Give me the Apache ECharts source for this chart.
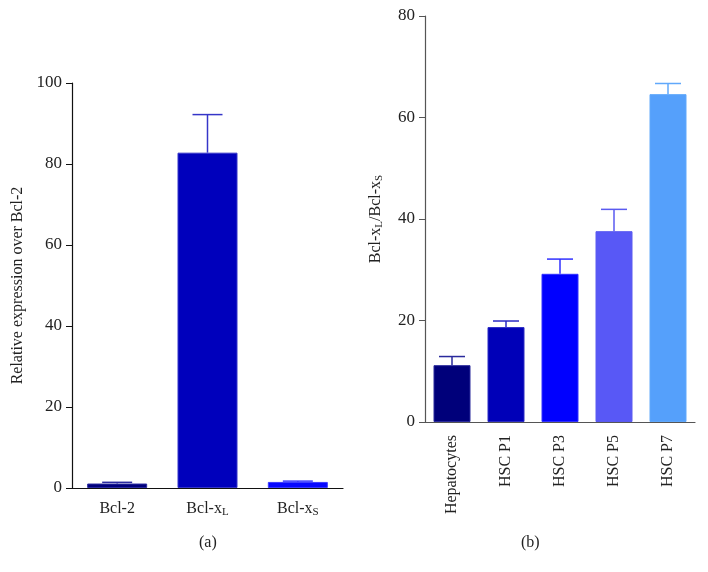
<!DOCTYPE html>
<html>
<head>
<meta charset="utf-8">
<script src="https://cdn.jsdelivr.net/npm/echarts@6/dist/echarts.min.js"></script>
<style>
  html, body { margin: 0; padding: 0; background: #fff; }
  #chart { width: 708px; height: 572px; }
</style>
</head>
<body>
<div id="chart"></div>
<script>
// panel (a)
const leftCategories = ['Bcl-2', 'Bcl-xL', 'Bcl-xS'];
const leftMeans = [1.1, 82.8, 1.5];
const leftErrors = [0.3, 9.4, 0.2];
const leftTicks = [0, 20, 40, 60, 80, 100];

// panel (b)
const rightCategories = ['Hepatocytes', 'HSC P1', 'HSC P3', 'HSC P5', 'HSC P7'];
const rightMeans = [11.2, 18.7, 29.2, 37.6, 64.6];
const rightErrors = [1.7, 1.2, 2.9, 4.3, 2.1];
const rightTicks = [0, 20, 40, 60, 80];

const leftColors = ['#00007c', '#0000bc', '#0808ff'];
const leftErrColors = ['#2a2aa0', '#3535c8', '#3a3aff'];
const rightColors = ['#00007a', '#0000b8', '#0000ff', '#5858f6', '#55a0fb'];
const rightErrColors = ['#2a2a9c', '#2a2ac4', '#3030ff', '#5a5af0', '#60a8fb'];

const FONT = '"Liberation Serif", "DejaVu Serif", serif';

const labelWithSub = (v) => {
  if (v === 'Bcl-xL') return 'Bcl-x{sub|L}';
  if (v === 'Bcl-xS') return 'Bcl-x{sub|S}';
  return v;
};

const subRich = {
  sub: { fontFamily: FONT, fontSize: 11, lineHeight: 9, color: '#222', verticalAlign: 'bottom' }
};

function errorSeries(gridIdx, means, errors, errColors, capHalf) {
  return {
    type: 'custom',
    xAxisIndex: gridIdx,
    yAxisIndex: gridIdx,
    z: 1,
    silent: true,
    data: means.map((m, i) => [i, m, m + errors[i]]),
    renderItem: (params, api) => {
      const i = api.value(0);
      const base = api.coord([i, api.value(1)]);
      const top = api.coord([i, api.value(2)]);
      const style = { stroke: errColors[i], lineWidth: 1.5 };
      return {
        type: 'group',
        children: [
          { type: 'line', shape: { x1: base[0], y1: base[1], x2: top[0], y2: top[1] }, style },
          { type: 'line', shape: { x1: top[0] - capHalf, y1: top[1], x2: top[0] + capHalf, y2: top[1] }, style }
        ]
      };
    }
  };
}

const catText = { fontFamily: FONT, fontSize: 16, color: '#222' };
const numText = { fontFamily: FONT, fontSize: 17, color: '#222' };

const chart = echarts.init(document.getElementById('chart'));
chart.setOption({
  animation: false,
  backgroundColor: '#fff',
  grid: [
    { left: 72, top: 83, width: 271, height: 405 },
    { left: 425, top: 16, width: 270, height: 406 }
  ],
  xAxis: [
    {
      gridIndex: 0,
      type: 'category',
      data: leftCategories,
      axisLine: { lineStyle: { color: '#111', width: 1.2 } },
      axisTick: { alignWithLabel: true, length: 6, lineStyle: { color: '#111' } },
      axisLabel: Object.assign({}, catText, {
        interval: 0, margin: 12, lineHeight: 18, formatter: labelWithSub, rich: subRich
      })
    },
    {
      gridIndex: 1,
      type: 'category',
      data: rightCategories,
      axisLine: { lineStyle: { color: '#555', width: 1.2 } },
      axisTick: { alignWithLabel: true, length: 6, lineStyle: { color: '#555' } },
      axisLabel: Object.assign({}, catText, { interval: 0, rotate: 90, margin: 13 })
    }
  ],
  yAxis: [
    {
      gridIndex: 0,
      type: 'value',
      min: leftTicks[0],
      max: leftTicks[leftTicks.length - 1],
      interval: leftTicks[1] - leftTicks[0],
      splitLine: { show: false },
      axisLine: { show: true, lineStyle: { color: '#111', width: 1.2 } },
      axisTick: { show: true, length: 6, lineStyle: { color: '#111' } },
      axisLabel: Object.assign({}, numText, { margin: 10 }),
      name: 'Relative expression over Bcl-2',
      nameLocation: 'middle',
      nameGap: 46,
      nameTextStyle: { fontFamily: FONT, fontSize: 16, color: '#222' }
    },
    {
      gridIndex: 1,
      type: 'value',
      min: rightTicks[0],
      max: rightTicks[rightTicks.length - 1],
      interval: rightTicks[1] - rightTicks[0],
      splitLine: { show: false },
      axisLine: { show: true, lineStyle: { color: '#555', width: 1.2 } },
      axisTick: { show: true, length: 6, lineStyle: { color: '#555' } },
      axisLabel: Object.assign({}, numText, { margin: 10 }),
      name: 'Bcl-x{sub|L}/Bcl-x{sub|S}',
      nameLocation: 'middle',
      nameGap: 40,
      nameTextStyle: { fontFamily: FONT, fontSize: 16, lineHeight: 18, color: '#222', rich: subRich }
    }
  ],
  series: [
    {
      type: 'bar',
      xAxisIndex: 0,
      yAxisIndex: 0,
      barWidth: 60,
      z: 2,
      data: leftMeans.map((v, i) => ({
        value: v,
        itemStyle: { color: leftColors[i], borderColor: leftErrColors[i], borderWidth: 1 }
      }))
    },
    errorSeries(0, leftMeans, leftErrors, leftErrColors, 15),
    {
      type: 'bar',
      xAxisIndex: 1,
      yAxisIndex: 1,
      barWidth: 37,
      z: 2,
      data: rightMeans.map((v, i) => ({
        value: v,
        itemStyle: { color: rightColors[i], borderColor: rightErrColors[i], borderWidth: 1 }
      }))
    },
    errorSeries(1, rightMeans, rightErrors, rightErrColors, 13)
  ],
  graphic: [
    { type: 'text', left: 199, top: 535, style: { text: '(a)', font: '16px ' + FONT, fill: '#222' } },
    { type: 'text', left: 521, top: 535, style: { text: '(b)', font: '16px ' + FONT, fill: '#222' } }
  ]
});

window.addEventListener('resize', () => chart.resize());
</script>
</body>
</html>
